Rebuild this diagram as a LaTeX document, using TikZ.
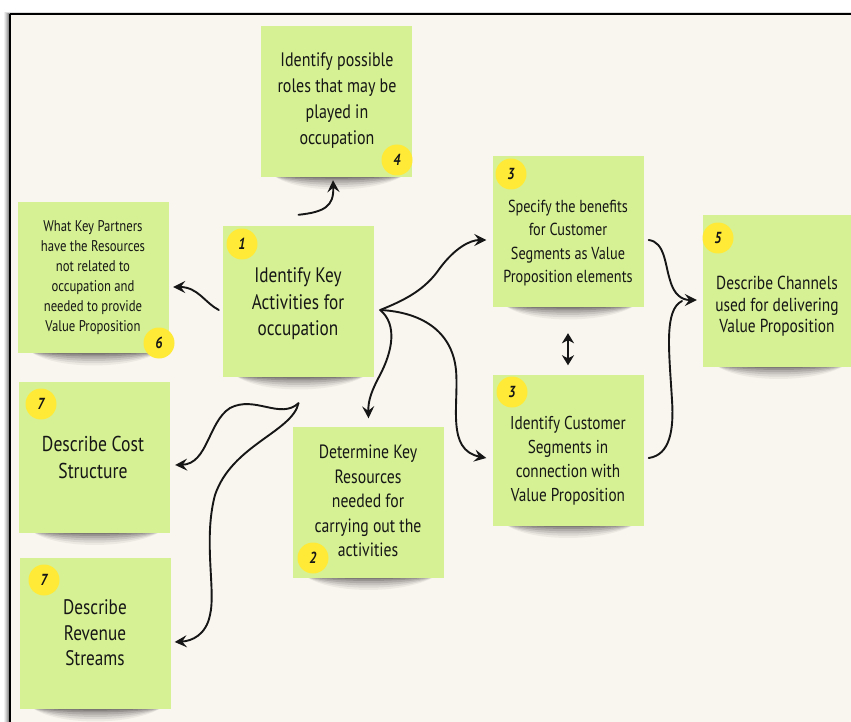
\documentclass[tikz,border=0pt]{standalone}
\usepackage{fontspec}
\setmainfont{PT Sans}[FakeStretch=0.82]
\usetikzlibrary{arrows.meta}

\definecolor{paper}{RGB}{249,245,239}
\definecolor{stickygreen}{RGB}{213,241,148}
\definecolor{badgeyellow}{RGB}{255,234,55}
\definecolor{ink}{RGB}{22,22,22}

\pgfdeclarelayer{back}
\pgfdeclarelayer{shade}
\pgfsetlayers{back,shade,main}

\tikzset{
  sticky/.style={rectangle, fill=stickygreen, minimum width=151pt,
    minimum height=151pt, inner sep=0pt},
  notetext/.style 2 args={align=center, text=ink, inner sep=0pt,
    font=\fontsize{#1}{#2}\selectfont},
  badge/.style={circle, fill=badgeyellow, minimum size=31pt, inner sep=0pt,
    text=ink, font=\fontsize{16}{16}\selectfont\bfseries\itshape},
  flow/.style={draw=ink, line width=1.9pt, line cap=round,
    -{Stealth[length=12pt,width=12pt,inset=4.5pt]}},
  plainflow/.style={draw=ink, line width=1.9pt, line cap=round},
}

% soft curled shadow under the lower edge of a sticky note
\newcommand\stickyshadow[1]{%
  \begin{pgfonlayer}{shade}
    \foreach \d/\o in {19pt/0.05,16pt/0.07,13pt/0.09,10pt/0.11,7pt/0.14,4.5pt/0.18,2.5pt/0.22}{%
      \fill[black,opacity=\o]
        ([xshift=12pt,yshift=2pt]#1.south west)
        .. controls +(25pt,-\d) and +(-30pt,-\d) ..
        ([xshift=-8pt,yshift=2pt]#1.south east) -- cycle;}
  \end{pgfonlayer}}

\begin{document}
\begin{tikzpicture}[x=1pt,y=-1pt]
  \useasboundingbox (0,0) rectangle (851,722);
  \clip (0,0) rectangle (851,722);

  % page with its frame
  \begin{pgfonlayer}{back}
    \fill[white] (0,0) rectangle (851,722);
    \foreach \s/\o in {6/0.06,5/0.08,4/0.1,3/0.12,2/0.15,1/0.2}{%
      \fill[black,opacity=\o] (10-\s,14-\s/3) rectangle (851,722);}
    \fill[paper] (10,14) rectangle (851,722);
    \draw[black, line width=1.6pt] (10,14) -- (851,14);
    \draw[black, line width=1.8pt] (10,14) -- (10,722);
  \end{pgfonlayer}

  % sticky notes
  \node[sticky] (n4)  at (336.5,101.5) {};
  \node[sticky] (n6)  at (93.5,277.5)  {};
  \node[sticky] (n1)  at (298.5,301.5) {};
  \node[sticky] (n3a) at (568,231.5)   {};
  \node[sticky] (n5)  at (778.5,291)   {};
  \node[sticky] (n3b) at (568,450)     {};
  \node[sticky] (n7a) at (94.5,457)    {};
  \node[sticky] (n7b) at (95,633.5)    {};
  \node[sticky] (n2)  at (368.5,502)   {};

  \foreach \n in {n4,n6,n1,n3a,n5,n3b,n7a,n7b,n2}{\stickyshadow{\n}}

  % texts
  \node[notetext={19.5}{26}]   (t4)  at (337,101)   {Identify possible\\roles that may be\\played in\\occupation};
  \node[notetext={15.5}{20}]   (t6)  at (93,278)    {What Key Partners\\have the Resources\\not related to\\occupation and\\needed to provide\\Value Proposition};
  \node[notetext={21}{26.5}]   (t1)  at (298,304)   {Identify Key\\Activities for\\occupation};
  \node[notetext={17.4}{23.5}] (t3a) at (568,243)   {Specify the benefits\\for Customer\\Segments as Value\\Proposition elements};
  \node[notetext={18.8}{21.5}] (t5)  at (777,306.5) {Describe Channels\\used for delivering\\Value Proposition};
  \node[notetext={18.6}{24}]   (t3b) at (568,461)   {Identify Customer\\Segments in\\connection with\\Value Proposition};
  \node[notetext={21.5}{27}]   (t7a) at (93,457)    {Describe Cost\\Structure};
  \node[notetext={21}{25.5}]   (t7b) at (95,633)    {Describe\\Revenue\\Streams};
  \node[notetext={19.2}{24.5}] (t2)  at (368,501)   {Determine Key\\Resources\\needed for\\carrying out the\\activities};

  % step badges
  \node[badge] (b4)  at (397,160) {4};
  \node[badge] (b6)  at (159,343) {6};
  \node[badge] (b1)  at (242,244) {1};
  \node[badge] (b3a) at (511,174) {3};
  \node[badge] (b5)  at (718,238) {5};
  \node[badge] (b3b) at (512,392) {3};
  \node[badge] (b7a) at (41,404)  {7};
  \node[badge] (b7b) at (44,580)  {7};
  \node[badge] (b2)  at (313,558) {2};

  % branching points
  \coordinate (j1) at ([xshift=6pt,yshift=-8.5pt]n1.east);
  \coordinate (k1) at ([yshift=-26pt]n1.south);
  \coordinate (m5) at ([xshift=-6pt,yshift=-9pt]n5.west);

  % connectors
  \draw[flow] ([yshift=11pt]n1.north)
    .. controls (325,212) and (334,206) .. ([xshift=-3.5pt,yshift=-3pt]n4.south);
  \draw[flow] ([xshift=-4pt,yshift=-8.5pt]n1.west)
    .. controls (205,303) and (198,287) .. ([xshift=4pt,yshift=-9.5pt]n6.east);
  \draw[flow] (j1) .. controls (405,300) and (425,290) .. (440,268)
    .. controls (455,248) and (470,240) .. ([xshift=-6pt,yshift=-8.5pt]n3a.west);
  \draw[flow] (j1) .. controls (420,312) and (452,330) .. (456,370)
    .. controls (459,405) and (446,450) .. ([xshift=-6pt,yshift=-8pt]n3b.west);
  \draw[flow] (j1) .. controls (398,325) and (392,352) .. (380,375)
    .. controls (372,390) and (368,400) .. ([yshift=8pt]n2.north);
  \draw[flow] (k1) .. controls (280,420) and (255,395) .. (230,408)
    .. controls (208,422) and (208,464) .. ([xshift=5pt,yshift=-8pt]n7a.east);
  \draw[flow] (k1) .. controls (292,432) and (232,445) .. (215,495)
    .. controls (203,540) and (216,590) .. (210,615)
    .. controls (206,635) and (192,641) .. ([xshift=4pt,yshift=-8.5pt]n7b.east);
  \draw[flow] ([xshift=5pt,yshift=-8.5pt]n3a.east)
    .. controls (665,242) and (665,265) .. (670,280)
    .. controls (674,295) and (682,300) .. (m5);
  \draw[plainflow] ([xshift=5pt,yshift=-8pt]n3b.east)
    .. controls (670,455) and (674,430) .. (672,400)
    .. controls (669,350) and (664,310) .. (682,301);
  \draw[draw=ink, line width=1.9pt,
        {Stealth[length=10pt,width=12pt,inset=3pt]}-{Stealth[length=10pt,width=12pt,inset=3pt]}]
    ([yshift=-26pt]n3a.south) -- ([yshift=9pt]n3b.north);
\end{tikzpicture}
\end{document}
